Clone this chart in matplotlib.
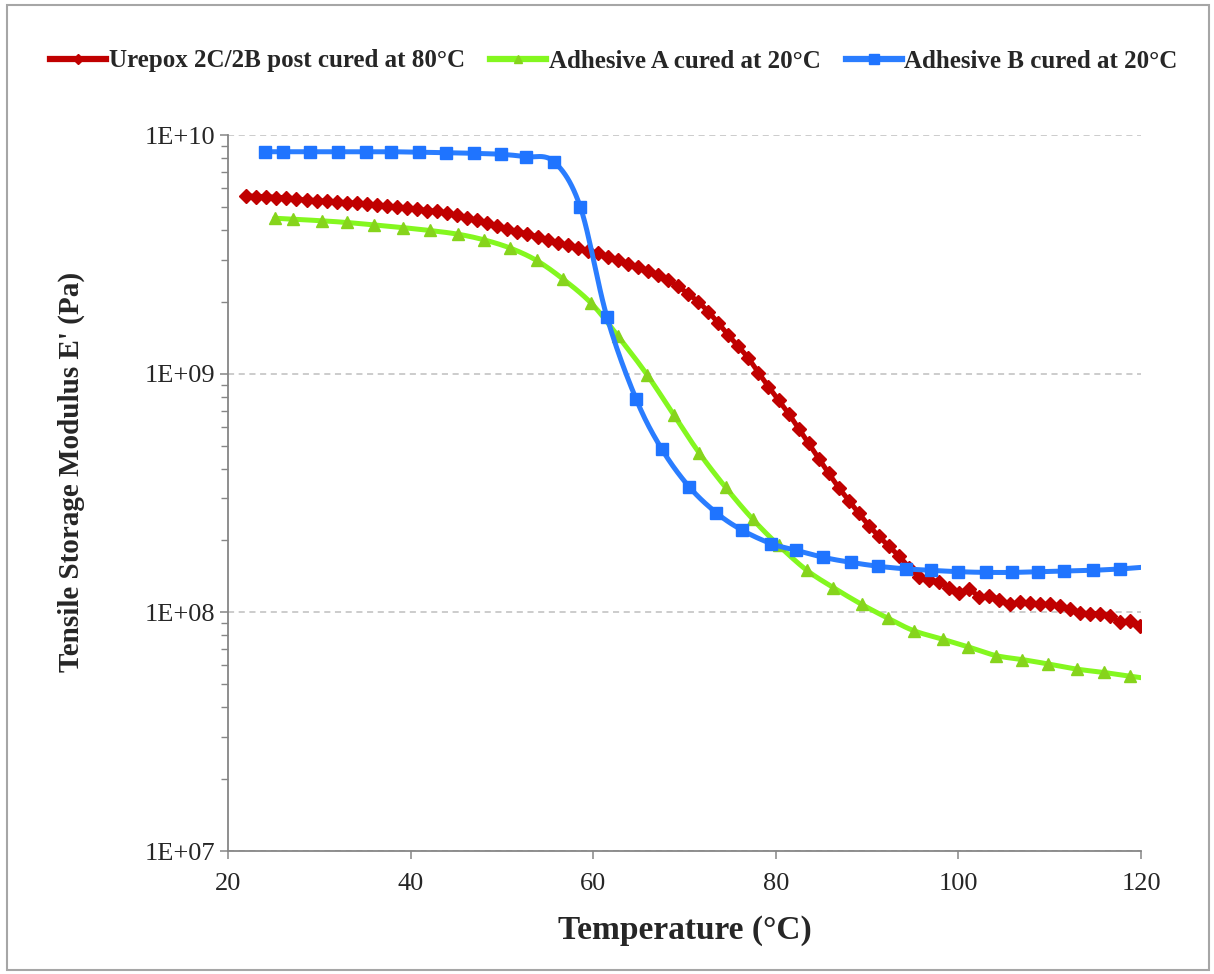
import numpy as np
import matplotlib
matplotlib.use("Agg")
import matplotlib.pyplot as plt
from matplotlib.lines import Line2D
from matplotlib.patches import Rectangle
from matplotlib.ticker import FixedLocator, FuncFormatter, LogLocator, NullFormatter

plt.rcParams['font.family'] = ['Liberation Serif', 'DejaVu Serif']

# Urepox 2C/2B post cured at 80°C
urepox_temp = [22.0, 23.1, 24.2, 25.3, 26.4, 27.5, 28.6, 29.7, 30.8, 31.9,
               33.0, 34.1, 35.2, 36.3, 37.4, 38.5, 39.6, 40.7, 41.8, 42.9,
               44.0, 45.1, 46.2, 47.3, 48.4, 49.5, 50.6, 51.7, 52.8, 53.9,
               55.0, 56.1, 57.2, 58.3, 59.4, 60.5, 61.6, 62.7, 63.8, 64.9,
               66.0, 67.1, 68.2, 69.3, 70.4, 71.5, 72.6, 73.7, 74.8, 75.9,
               77.0, 78.1, 79.2, 80.3, 81.4, 82.5, 83.6, 84.7, 85.8, 86.9,
               88.0, 89.1, 90.2, 91.3, 92.4, 93.5, 94.6, 95.7, 96.8, 97.9,
               99.0, 100.1, 101.2, 102.3, 103.4, 104.5, 105.6, 106.7, 107.8, 108.9,
               110.0, 111.1, 112.2, 113.3, 114.4, 115.5, 116.6, 117.7, 118.8, 119.9]
urepox_mod = [5.57e9, 5.52e9, 5.52e9, 5.47e9, 5.47e9, 5.38e9, 5.35e9, 5.31e9, 5.28e9, 5.24e9,
              5.21e9, 5.18e9, 5.14e9, 5.08e9, 5.05e9, 4.98e9, 4.94e9, 4.89e9, 4.82e9, 4.80e9,
              4.70e9, 4.61e9, 4.49e9, 4.39e9, 4.28e9, 4.16e9, 4.04e9, 3.94e9, 3.85e9, 3.74e9,
              3.64e9, 3.53e9, 3.45e9, 3.35e9, 3.27e9, 3.19e9, 3.09e9, 2.98e9, 2.89e9, 2.80e9,
              2.69e9, 2.58e9, 2.46e9, 2.32e9, 2.16e9, 2.00e9, 1.82e9, 1.63e9, 1.45e9, 1.30e9,
              1.16e9, 1.01e9, 8.82e8, 7.75e8, 6.80e8, 5.89e8, 5.10e8, 4.41e8, 3.82e8, 3.33e8,
              2.94e8, 2.60e8, 2.31e8, 2.08e8, 1.89e8, 1.72e8, 1.54e8, 1.41e8, 1.36e8, 1.34e8,
              1.27e8, 1.21e8, 1.25e8, 1.16e8, 1.17e8, 1.13e8, 1.08e8, 1.10e8, 1.09e8, 1.08e8,
              1.08e8, 1.06e8, 1.03e8, 9.97e7, 9.88e7, 9.88e7, 9.65e7, 9.11e7, 9.20e7, 8.76e7]

# Adhesive A cured at 20°C (last point lies past the 120 axis end)
adh_a_temp = [25.1, 27.1, 30.3, 33.0, 36.0, 39.2, 42.1, 45.2, 48.0, 50.9,
              53.8, 56.7, 59.8, 62.7, 65.9, 68.8, 71.6, 74.5, 77.5, 80.3,
              83.4, 86.3, 89.4, 92.3, 95.1, 98.3, 101.0, 104.1, 107.0, 109.8,
              113.0, 115.9, 118.8, 121.7]
adh_a_mod = [4.48e9, 4.44e9, 4.37e9, 4.30e9, 4.20e9, 4.09e9, 3.98e9, 3.84e9, 3.64e9, 3.36e9,
             2.98e9, 2.49e9, 1.97e9, 1.44e9, 9.9e8, 6.74e8, 4.66e8, 3.34e8, 2.45e8, 1.91e8,
             1.50e8, 1.27e8, 1.08e8, 9.44e7, 8.38e7, 7.71e7, 7.18e7, 6.59e7, 6.34e7, 6.08e7,
             5.78e7, 5.60e7, 5.40e7, 5.22e7]

# Adhesive B cured at 20°C
adh_b_temp = [24.0, 26.0, 29.0, 32.0, 35.1, 37.9, 40.9, 43.9, 46.9, 49.9,
              52.6, 55.7, 58.6, 61.5, 64.7, 67.5, 70.5, 73.5, 76.3, 79.5,
              82.2, 85.2, 88.2, 91.2, 94.3, 97.0, 100.0, 103.0, 105.9, 108.7,
              111.6, 114.7, 117.7, 120.7]
adh_b_mod = [8.51e9, 8.51e9, 8.51e9, 8.51e9, 8.51e9, 8.51e9, 8.46e9, 8.43e9, 8.38e9, 8.30e9,
             8.11e9, 7.73e9, 4.98e9, 1.73e9, 7.83e8, 4.84e8, 3.36e8, 2.61e8, 2.21e8, 1.94e8,
             1.82e8, 1.70e8, 1.62e8, 1.56e8, 1.52e8, 1.50e8, 1.48e8, 1.47e8, 1.47e8, 1.48e8,
             1.49e8, 1.50e8, 1.52e8, 1.55e8]

labels = ['Urepox 2C/2B post cured at 80°C',
          'Adhesive A cured at 20°C',
          'Adhesive B cured at 20°C']
x_ticks = [20, 40, 60, 80, 100, 120]
y_ticks = [1e7, 1e8, 1e9, 1e10]


def smooth(x, y, n=12):
    # Catmull-Rom curve through the points (same as Excel's smoothed line)
    x = np.asarray(x, float)
    y = np.log10(np.asarray(y, float))
    px = np.concatenate([[2 * x[0] - x[1]], x, [2 * x[-1] - x[-2]]])
    py = np.concatenate([[2 * y[0] - y[1]], y, [2 * y[-1] - y[-2]]])
    t = np.linspace(0, 1, n, endpoint=False)
    xs, ys = [], []
    for i in range(1, len(px) - 2):
        for p, out in ((px, xs), (py, ys)):
            p0, p1, p2, p3 = p[i - 1], p[i], p[i + 1], p[i + 2]
            out.append(0.5 * (2 * p1 + (-p0 + p2) * t
                              + (2 * p0 - 5 * p1 + 4 * p2 - p3) * t ** 2
                              + (-p0 + 3 * p1 - 3 * p2 + p3) * t ** 3))
    xs.append([x[-1]])
    ys.append([y[-1]])
    return np.concatenate(xs), 10 ** np.concatenate(ys)


fig = plt.figure(figsize=(12.14, 9.74), dpi=100)
ax = fig.add_axes([228 / 1214, 1 - 851 / 974, 913 / 1214, 716 / 974])

series = [
    (urepox_temp, urepox_mod, '#C00000', '#C00000', 'D', 7.0),
    (adh_a_temp, adh_a_mod, '#84F71F', '#86D41C', '^', 8.5),
    (adh_b_temp, adh_b_mod, '#2A7DFF', '#1F74FF', 's', 8.8),
]
handles = []
for (t, e, lc, mc, mk, ms), lab in zip(series, labels):
    sx, sy = smooth(t, e)
    ax.plot(sx, sy, color=lc, lw=3.6, solid_capstyle='round')
    t_in = [a for a in t if a <= 120]
    e_in = [b for a, b in zip(t, e) if a <= 120]
    ax.plot(t_in, e_in, ls='none', marker=mk, ms=ms, mfc=mc, mec=mc)
    handles.append(Line2D([], [], color=lc, lw=4.5, marker=mk, ms=ms * 0.75,
                          mfc=mc, mec=mc, label=lab))

ax.set_yscale('log')
ax.set_xlim(20, 120)
ax.set_ylim(1e7, 1e10)
ax.xaxis.set_major_locator(FixedLocator(x_ticks))
ax.yaxis.set_major_locator(FixedLocator(y_ticks))
ax.yaxis.set_minor_locator(LogLocator(base=10, subs=np.arange(2, 10)))
ax.yaxis.set_minor_formatter(NullFormatter())
ax.yaxis.set_major_formatter(FuncFormatter(lambda v, p: '1E+%02d' % round(np.log10(v))))

ax.grid(axis='y', which='major', ls=(0, (4, 3)), color='#BFBFBF', lw=1.1)
ax.set_axisbelow(True)
for s in ['top', 'right']:
    ax.spines[s].set_visible(False)
for s in ['left', 'bottom']:
    ax.spines[s].set_color('#868686')
    ax.spines[s].set_linewidth(1.3)
ax.tick_params(axis='both', which='major', direction='out', length=6, width=1.1,
               color='#868686', labelsize=19, labelcolor='#262626')
ax.tick_params(axis='y', which='minor', direction='out', length=5, width=1.0,
               color='#868686')
ax.tick_params(axis='x', pad=10)
ax.tick_params(axis='y', pad=3)

ax.set_xlabel('Temperature (°C)', fontsize=24, fontweight='bold', color='#262626')
ax.xaxis.set_label_coords(0.5, -0.09)
ax.set_ylabel("Tensile Storage Modulus E' (Pa)", fontsize=21, fontweight='bold',
              color='#262626')
ax.yaxis.set_label_coords(-0.157, 0.53)

fig.legend(handles=handles, loc='center', bbox_to_anchor=(614 / 1214, 1 - 61 / 974),
           ncol=3, frameon=False, prop={'size': 18, 'weight': 'bold'},
           handlelength=2.25, handletextpad=0.1, columnspacing=1.0, labelcolor='#262626')

fig.patches.append(Rectangle((7 / 1214, 4 / 974), 1202 / 1214, 965 / 974,
                             transform=fig.transFigure, fill=False,
                             edgecolor='#A6A6A6', lw=1.5))

fig.savefig('out.png', dpi=100)
